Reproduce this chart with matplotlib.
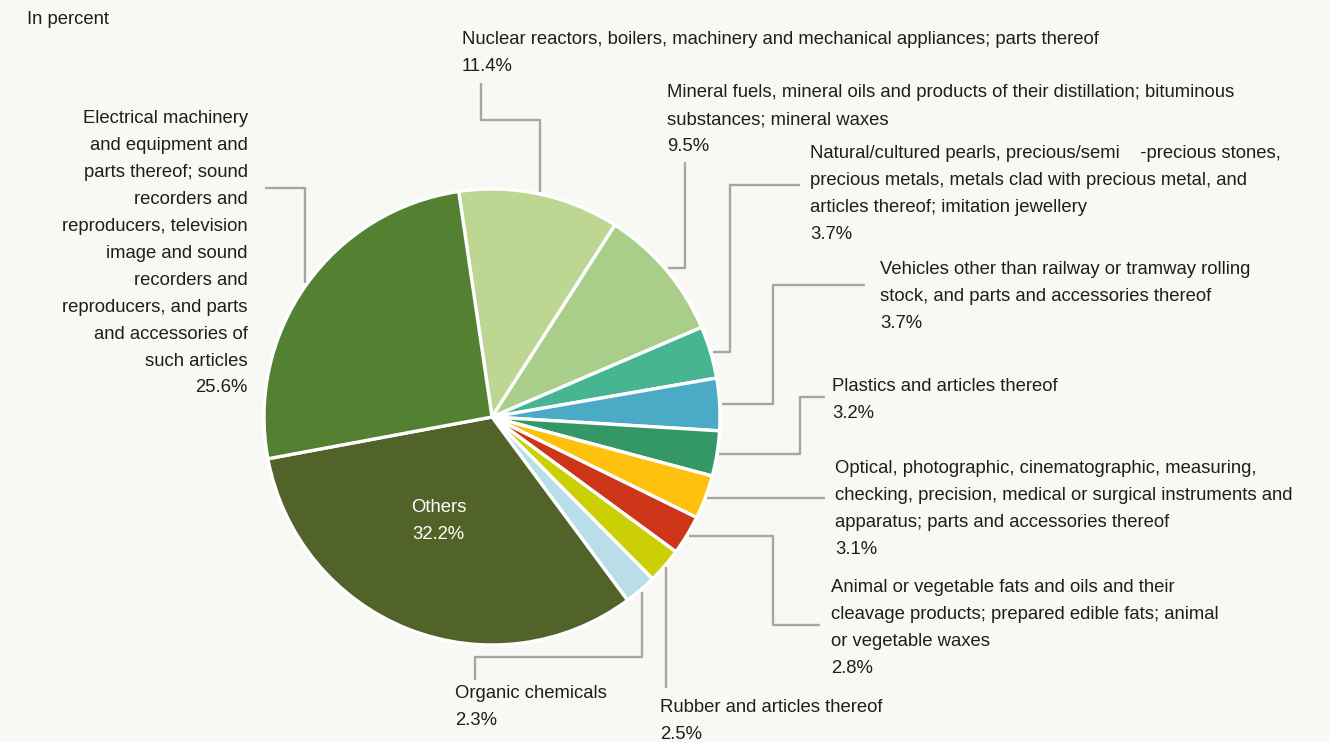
import numpy as np
import matplotlib.pyplot as plt

# share of exports by product group, in percent (clockwise from the top)
names = [
    "Nuclear reactors, boilers, machinery and mechanical appliances; parts thereof",
    "Mineral fuels, mineral oils and products of their distillation; bituminous\nsubstances; mineral waxes",
    "Natural/cultured pearls, precious/semi    -precious stones,\nprecious metals, metals clad with precious metal, and\narticles thereof; imitation jewellery",
    "Vehicles other than railway or tramway rolling\nstock, and parts and accessories thereof",
    "Plastics and articles thereof",
    "Optical, photographic, cinematographic, measuring,\nchecking, precision, medical or surgical instruments and\napparatus; parts and accessories thereof",
    "Animal or vegetable fats and oils and their\ncleavage products; prepared edible fats; animal\nor vegetable waxes",
    "Rubber and articles thereof",
    "Organic chemicals",
    "Others",
    "Electrical machinery\nand equipment and\nparts thereof; sound\nrecorders and\nreproducers, television\nimage and sound\nrecorders and\nreproducers, and parts\nand accessories of\nsuch articles",
]
shares = [11.4, 9.5, 3.7, 3.7, 3.2, 3.1, 2.8, 2.5, 2.3, 32.2, 25.6]
colors = ["#bdd793", "#a9ce8a", "#47b592", "#4baac6", "#339766", "#fec10e",
          "#cd3518", "#cbcf04", "#b8dfe8", "#52632a", "#548031"]

# label anchor (x, y of first line centre, alignment) and leader route in pixels
label_pos = [
    (462, 38, "left"), (667, 91, "left"), (810, 152, "left"), (880, 268, "left"),
    (832, 385, "left"), (835, 467, "left"), (831, 586, "left"), (660, 706, "left"),
    (455, 692, "left"), None, (248, 117, "right"),
]
routes = [
    [("v", 120), ("h", 481), ("v", 83)],
    [("h", 685), ("v", 162)],
    [("h", 730), ("v", 185), ("h", 800)],
    [("h", 773), ("v", 285), ("h", 865)],
    [("h", 800), ("v", 397), ("h", 825)],
    [("h", 825)],
    [("h", 773), ("v", 625), ("h", 820)],
    [("v", 688)],
    [("v", 657), ("h", 475), ("v", 680)],
    None,
    [("v", 188), ("h", 265)],
]

W, H = 1329, 742
cx, cy, R = 492, 417, 228
start = 98.4

plt.rcParams["font.family"] = ["Liberation Sans", "DejaVu Sans"]
bg = "#f8f9f5"
fig = plt.figure(figsize=(W / 100, H / 100), dpi=100, facecolor=bg)
ax = fig.add_axes([0, 0, 1, 1])
ax.set_facecolor(bg)

# y axis is inverted, so counterclockwise in data = clockwise on screen
ax.pie(shares, colors=colors, center=(cx, cy), radius=R, startangle=-start,
       counterclock=True, wedgeprops=dict(edgecolor="white", linewidth=2.4))
ax.set_xlim(0, W)
ax.set_ylim(H, 0)
ax.set_aspect("equal")
ax.axis("off")

fs = 13.3
ls = 1.77
step = 26.9  # pixel distance between text lines
tcol = "#1e1e1e"
lcol = "#a6a6a6"
cum = 0
for i, s in enumerate(shares):
    mid = start - (cum + s / 2) * 3.6
    cum += s
    a = np.deg2rad(mid)
    pct = f"{s:.1f}%"
    if label_pos[i] is None:
        ax.text(cx - 0.235 * R, cy + 0.457 * R, names[i] + "\n" + pct,
                color="white", fontsize=fs, ha="center", va="center",
                multialignment="center", linespacing=ls)
        continue
    ex, ey = cx + (R + 2) * np.cos(a), cy - (R + 2) * np.sin(a)
    xs, ys = [ex], [ey]
    for d, v in routes[i]:
        if d == "h":
            xs.append(v)
            ys.append(ys[-1])
        else:
            xs.append(xs[-1])
            ys.append(v)
    ax.plot(xs, ys, color=lcol, lw=1.7, solid_capstyle="butt")
    lx, ly, al = label_pos[i]
    nlines = names[i].count("\n") + 1
    ax.text(lx, ly - 7, names[i], color=tcol, fontsize=fs, ha=al, va="top",
            multialignment=al, linespacing=ls)
    ax.text(lx, ly - 7 + nlines * step, pct, color=tcol, fontsize=fs,
            ha=al, va="top")

ax.text(27, 11, "In percent", color=tcol, fontsize=fs, ha="left", va="top")

fig.savefig("out.png", dpi=100, facecolor=bg)
